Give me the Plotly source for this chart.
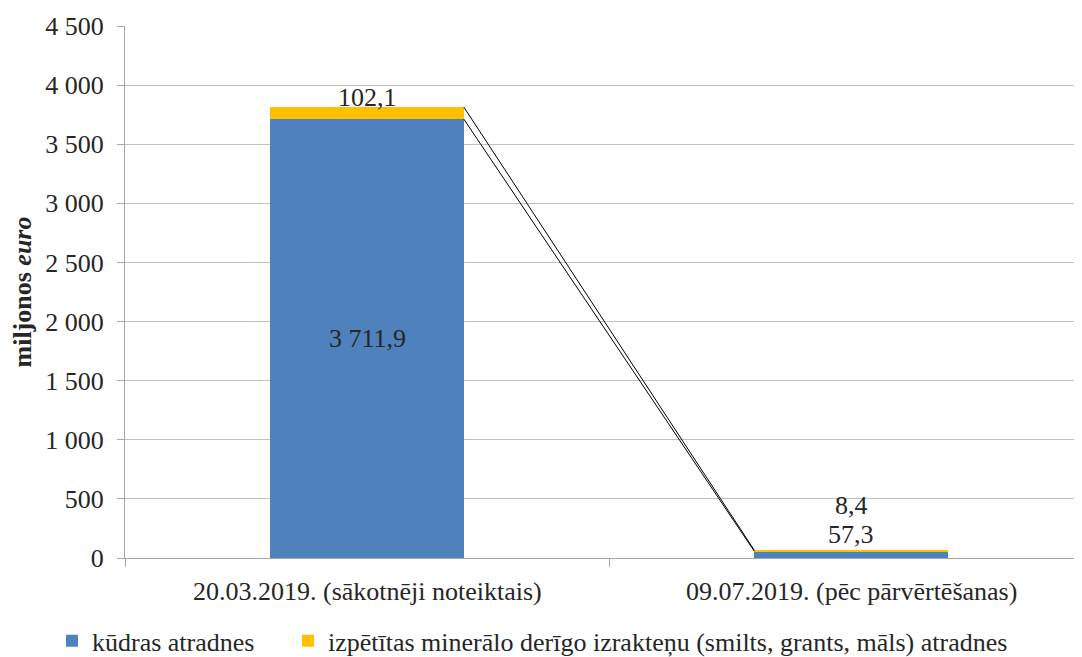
import plotly.graph_objects as go

categories = ["20.03.2019. (sākotnēji noteiktais)", "09.07.2019. (pēc pārvērtēšanas)"]
peat = [3711.9, 57.3]
minerals = [102.1, 8.4]
series_names = ["kūdras atradnes",
                "izpētītas minerālo derīgo izrakteņu (smilts, grants, māls) atradnes"]
y_ticks = [0, 500, 1000, 1500, 2000, 2500, 3000, 3500, 4000, 4500]

FONT = "Times New Roman"
BLUE = "#4F81BD"
YELLOW = "#FFC000"
BAR_W = 0.4
FS = 26
TXT = "#262626"


def fmt(v):
    s = f"{v:,.1f}"
    return s.replace(",", " ").replace(".", ",")


xs = list(range(len(categories)))

fig = go.Figure()
fig.add_bar(x=xs, y=peat, name=series_names[0], marker_color=BLUE,
            marker_line_width=0, width=BAR_W, legend="legend")
fig.add_bar(x=xs, y=minerals, name=series_names[1], marker_color=YELLOW,
            marker_line_width=0, width=BAR_W, legend="legend2")

# series lines between the bars
tops_total = [p + m for p, m in zip(peat, minerals)]
for tops in (peat, tops_total):
    fig.add_shape(type="line", xref="x", yref="y",
                  x0=xs[0] + BAR_W / 2, y0=tops[0],
                  x1=xs[1] - BAR_W / 2, y1=tops[1],
                  line=dict(color="black", width=1))

# data labels
fig.add_annotation(x=xs[0], y=peat[0] / 2, text=fmt(peat[0]), showarrow=False)
fig.add_annotation(x=xs[0], y=tops_total[0], text=fmt(minerals[0]), showarrow=False,
                   yshift=10)
fig.add_annotation(x=xs[1], y=tops_total[1], text=fmt(peat[1]), showarrow=False,
                   yshift=16)
fig.add_annotation(x=xs[1], y=tops_total[1], text=fmt(minerals[1]), showarrow=False,
                   yshift=45)

# category labels
for i, c in enumerate(categories):
    fig.add_annotation(x=xs[i], y=0, yref="y", text=c, showarrow=False,
                       yanchor="top", yshift=-17)

fig.update_annotations(font=dict(family=FONT, size=FS, color=TXT))

leg = dict(orientation="h", yref="container", y=0.0247, yanchor="middle",
           xanchor="left", font=dict(size=FS), itemwidth=30,
           bgcolor="rgba(0,0,0,0)")

# page body has an 8px margin, so the figure is 8px smaller than the window
fig.update_layout(
    width=1074, height=649,
    barmode="stack",
    separators=", ",
    plot_bgcolor="white", paper_bgcolor="white",
    font=dict(family=FONT, size=FS, color=TXT),
    margin=dict(l=117, r=0, t=18, b=99),
    showlegend=True,
    legend=dict(leg, x=-0.0763),
    legend2=dict(leg, x=0.1703),
    xaxis=dict(range=[-0.5, 1.477], tickvals=[-0.5, 0.5, 1.5], ticktext=["", "", ""],
               ticks="outside", ticklen=8, tickcolor="#A6A6A6",
               showline=True, linecolor="#A6A6A6", showgrid=False, zeroline=False),
    yaxis=dict(range=[0, 4500], tickvals=y_ticks, tickformat=",d",
               ticks="outside", ticklen=7, tickcolor="#A6A6A6",
               ticklabelstandoff=8,
               showline=True, linecolor="#A6A6A6", gridcolor="#BFBFBF",
               zeroline=False,
               title=dict(text="<b>miljonos <i>euro</i></b>", standoff=6,
                          font=dict(size=26))),
)

fig.write_html("out.html")
